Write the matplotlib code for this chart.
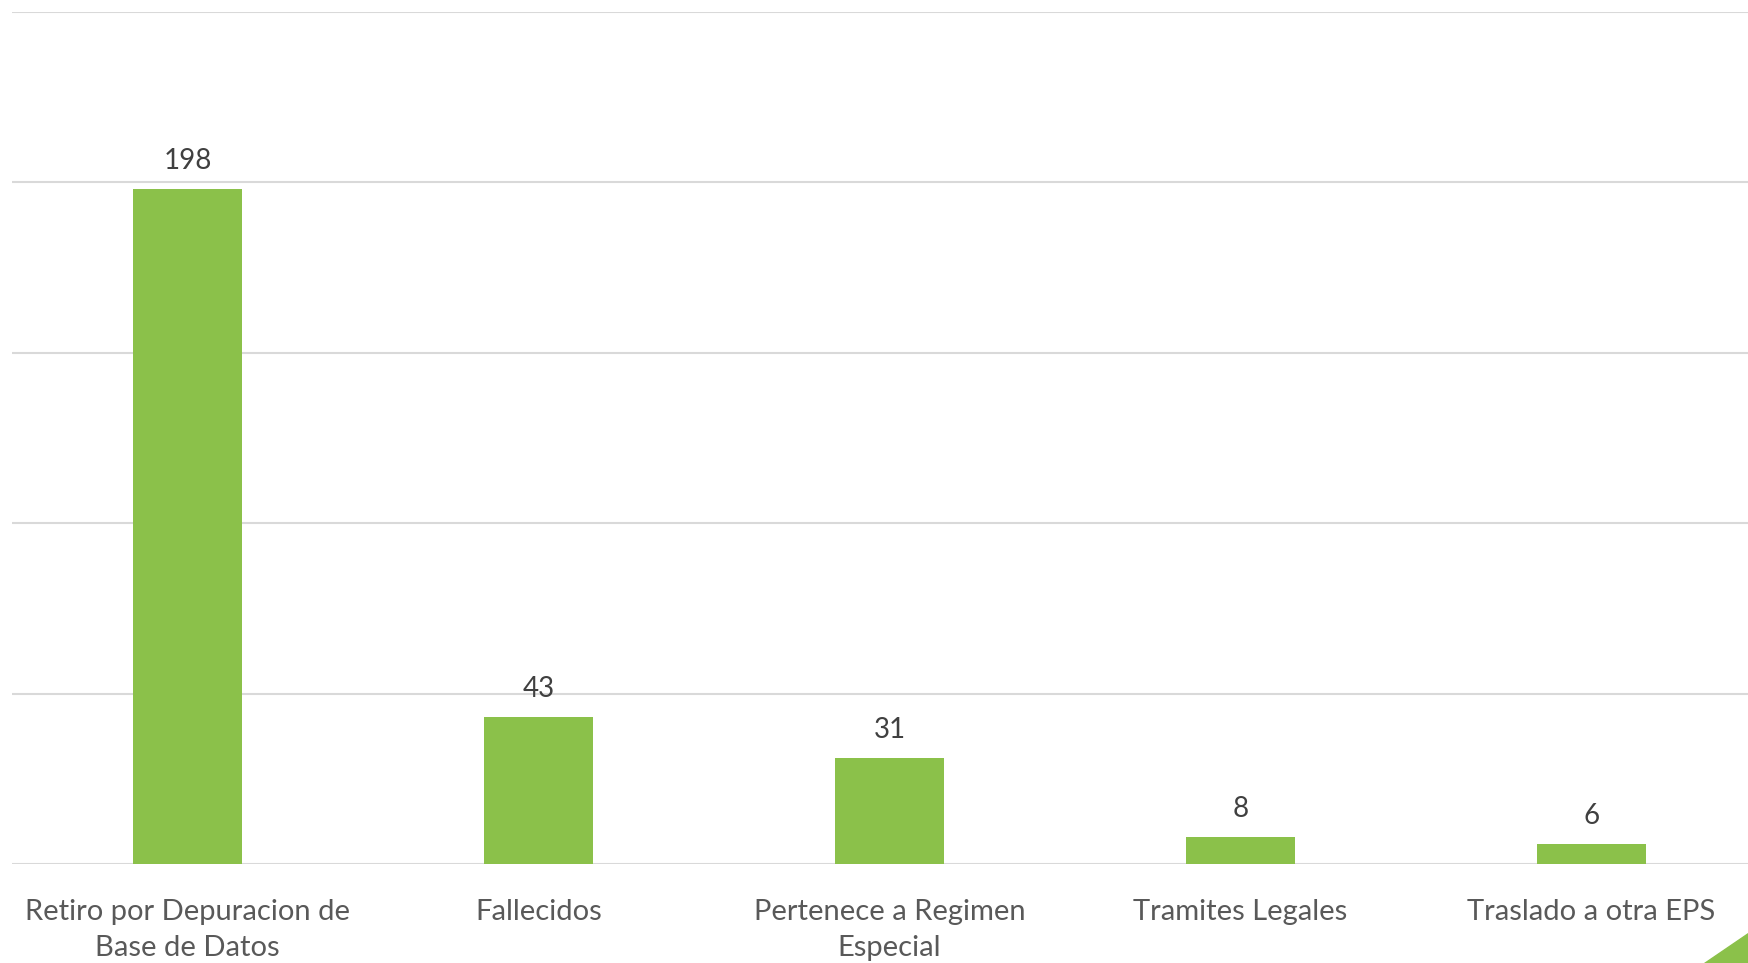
import matplotlib.pyplot as plt
from matplotlib.patches import Polygon

categorias = ["Retiro por Depuracion de\nBase de Datos", "Fallecidos",
              "Pertenece a Regimen\nEspecial", "Tramites Legales",
              "Traslado a otra EPS"]
valores = [198, 43, 31, 8, 6]
ticks_y = [0, 50, 100, 150, 200, 250]

plt.rcParams['font.family'] = ['Lato', 'DejaVu Sans']

fig = plt.figure(figsize=(17.48, 9.63), dpi=100)
# el grafico original esta recortado por la derecha
ax = fig.add_axes([12 / 1748, 99 / 963, 1755 / 1748, 852 / 963])

x = range(len(categorias))
bars = ax.bar(x, valores, width=0.31, color='#8bc14a', zorder=3)

for b, v in zip(bars, valores):
    ax.annotate(str(v), (b.get_x() + b.get_width() / 2, v),
                xytext=(0, 15), textcoords='offset pixels',
                ha='center', va='bottom', fontsize=20, color='#404040')

ax.set_xlim(-0.5, len(categorias) - 0.5)
ax.set_ylim(0, 250)
ax.set_yticks(ticks_y)
ax.yaxis.grid(True, color='#d9d9d9', linewidth=1.5, zorder=0)
ax.tick_params(axis='y', left=False, labelleft=False)
ax.set_xticks(list(x))
ax.set_xticklabels(categorias, fontsize=21, color='#595959', linespacing=1.45)
ax.tick_params(axis='x', bottom=False, pad=22)
for s in ax.spines.values():
    s.set_visible(False)

# triangulo decorativo abajo a la derecha
tri = Polygon([[1704 / 1748, 0], [1, 0], [1, 30 / 963]], closed=True,
              transform=fig.transFigure, color='#8bc14a')
fig.patches.append(tri)

fig.savefig('out.png', dpi=100)
